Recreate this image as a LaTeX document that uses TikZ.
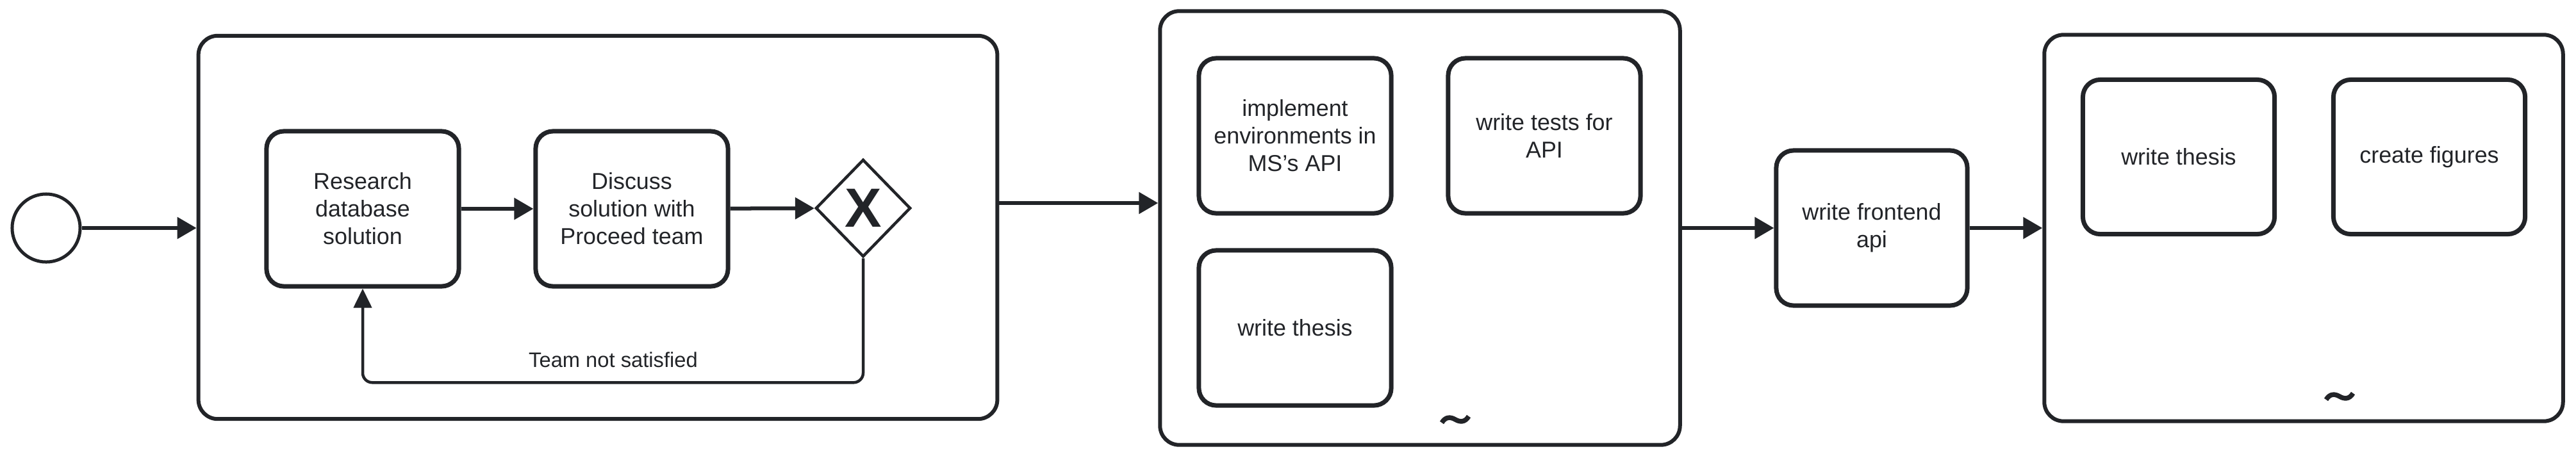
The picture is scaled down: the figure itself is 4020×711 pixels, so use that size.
\documentclass[tikz,border=0pt]{standalone}
\usepackage{fontspec}
\setmainfont{Liberation Sans}
\usetikzlibrary{arrows.meta,shapes.geometric,calc}
\definecolor{ink}{RGB}{34,36,40}
\begin{document}
\begin{tikzpicture}[x=0.01cm,y=-0.01cm,
  every node/.style={font=\fontsize{10.2}{12.2}\selectfont, text=ink},
  task/.style={draw=ink, line width=0.07cm, rounded corners=0.27cm, minimum width=3.0cm, minimum height=2.42cm, align=center, inner sep=0},
  sub/.style={draw=ink, line width=0.06cm, rounded corners=0.3cm, inner sep=0},
  flow/.style={draw=ink, line width=0.06cm, -{Triangle[length=0.3cm,width=0.33cm]}},
  loopflow/.style={draw=ink, line width=0.045cm, rounded corners=0.15cm, -{Triangle[length=0.3cm,width=0.28cm]}},
  tildemark/.pic={\draw[ink, line width=0.075cm] (-21,5) .. controls (-15,-5) and (-7,-4) .. (0,0) .. controls (7,4) and (15,5) .. (21,-5);}
  ]
\useasboundingbox (0,0) rectangle (4020,711);
% start event
\node[draw=ink, circle, line width=0.05cm, minimum size=1.06cm, inner sep=0] (start) at (72,356) {};
% subprocess 1
\node[sub, minimum width=12.46cm, minimum height=5.98cm] (sub1) at (933,355) {};
\node[task] (res) at (566,326) {Research\\database\\solution};
\node[task] (dis) at (986,326) {Discuss\\solution with\\Proceed team};
\node[draw=ink, diamond, line width=0.045cm, minimum width=1.48cm, minimum height=1.52cm, inner sep=0] (gw) at (1347,325) {};
\node[font=\fontsize{24.5}{24.5}\selectfont\bfseries, inner sep=0] (gwx) at (gw.center) {X};
\node[font=\fontsize{9.3}{11}\selectfont] (lbl) at (957,562) {Team not satisfied};
% subprocess 2
\node[sub, minimum width=8.11cm, minimum height=6.77cm] (sub2) at (2216,356) {};
\node[task] (impl) at (2021,212) {implement\\environments in\\MS's API};
\node[task] (tests) at (2410,212) {write tests for\\API};
\node[task] (thesis1) at (2021,512) {write thesis};
\pic at (2271,655) {tildemark};
% frontend
\node[task, minimum width=2.98cm] (fe) at (2921,356) {write frontend\\api};
% subprocess 3
\node[sub, minimum width=8.09cm, minimum height=6.03cm] (sub3) at (3595,356) {};
\node[task, minimum width=2.99cm, minimum height=2.41cm] (thesis2) at (3400,245) {write thesis};
\node[task, minimum width=2.99cm, minimum height=2.41cm] (fig) at (3791,245) {create figures};
\pic at (3651,619) {tildemark};
% flows
\draw[flow] (start) -- (start -| sub1.west);
\draw[flow] (res) -- (dis);
\draw[flow] (dis) -- (gw);
\draw[loopflow] (gw.south) -- ++(0,194) -| (res.south);
\coordinate (o1) at ($(sub1.east)+(0,-38)$);
\draw[flow] (o1) -- (o1 -| sub2.west);
\draw[flow] (sub2.east) -- (sub2.east -| fe.west);
\draw[flow] (fe.east) -- (fe.east -| sub3.west);
\end{tikzpicture}
\end{document}
